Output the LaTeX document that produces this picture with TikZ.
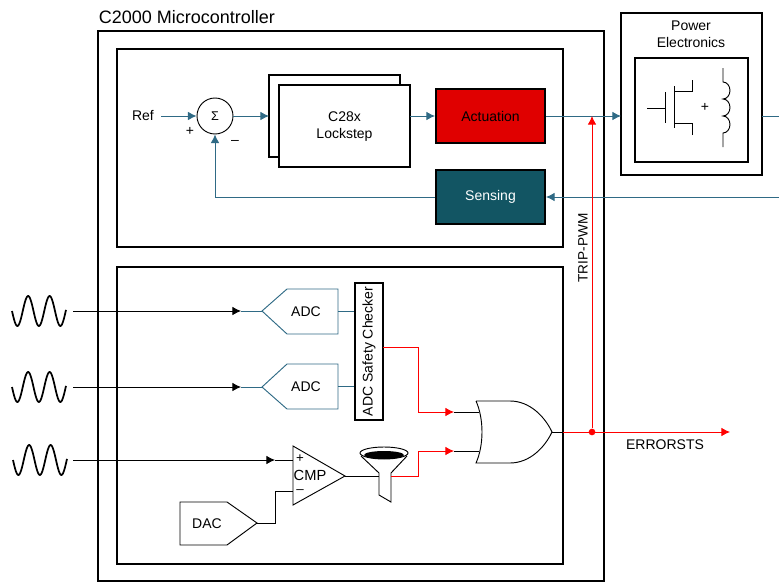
\documentclass[tikz,border=0pt]{standalone}
\usepackage{fontspec}
\setmainfont{Liberation Sans}
\usetikzlibrary{arrows.meta}
\tikzstyle{block}=[draw, line width=1.5pt, fill=white, minimum width=0, inner sep=0pt]
\tikzstyle{label}=[font=\fontsize{10.5}{12.75}\selectfont, inner sep=0pt, align=center]
\tikzstyle{thin}=[line width=0.7pt]
\tikzstyle{arrow}=[line width=0.7pt, -{Latex[length=6.5pt, width=6.5pt]}]
\tikzstyle{signal}=[arrow, color=sigblue]
\tikzstyle{link}=[thin, color=sigblue]
\tikzstyle{error}=[arrow, color=red]
\definecolor{sigblue}{HTML}{2F6A85}
\definecolor{actred}{HTML}{E00000}
\definecolor{senseteal}{HTML}{125563}

\begin{document}
\begin{tikzpicture}[x=0.75pt, y=-0.75pt]
  \useasboundingbox (0, 0) rectangle (779, 582);

  % boxes
  \draw[line width=1.5pt] (98, 31) rectangle (604, 581);
  \draw[line width=1.5pt] (117, 49) rectangle (563, 247);
  \draw[line width=1.5pt] (117, 267) rectangle (563, 564);
  \node[label, font=\fontsize{13.5}{15}\selectfont, anchor=west] (title) at (98.5, 17.5) {C2000 Microcontroller};

  % power stage
  \draw[line width=1.5pt] (621, 13) rectangle (762, 175);
  \draw[line width=1.5pt] (635, 58) rectangle (748, 162);
  \node[label] (power) at (691, 34.5) {Power\\Electronics};
  \draw[thin] (647, 108) -- (665, 108) (665, 92) -- (665, 123);
  \draw[thin] (674, 86) -- (674, 128);
  \draw[thin] (692.5, 80) |- (674, 91.5) (692.5, 135) |- (674, 123);
  \node[label] (plus) at (705, 107) {+};
  \draw[thin] (723, 68) -- (723, 82)
    arc (-90:90:7 and 8.5) arc (-90:90:7 and 8.5) arc (-90:90:7 and 8.5)
    -- (723, 147);

  % control loop
  \node[label] (ref) at (143, 116) {Ref};
  \node[draw, circle, thin, minimum size=27pt, inner sep=0pt, font=\fontsize{9.5}{11}\selectfont] (sum) at (215, 116) {Σ};
  \node[label] (plusin) at (190, 131) {+};
  \node[label] (minusin) at (235, 142) {--};
  \draw[block] (269, 75) rectangle (400, 157);
  \draw[block] (279, 85) rectangle (410, 167);
  \node[label] (cpu) at (344.5, 127) {C28x\\Lockstep};
  \coordinate (refout) at (161, 116);
  \coordinate (cpuin) at (269, 116);
  \coordinate (cpuout) at (410, 116);
  \node[block, fill=actred, minimum width=81.75pt, minimum height=40.5pt, label] (act) at (490.5, 116) {Actuation};
  \node[block, fill=senseteal, minimum width=81.75pt, minimum height=40.5pt, label, text=white] (sense) at (490.5, 197) {Sensing};
  \coordinate (powerin) at (621, 116);
  \coordinate (powerout) at (762, 116);
  \coordinate (outright) at (779, 116);
  \coordinate (inright) at (779, 197);

  \draw[signal] (refout) to (sum);
  \draw[signal] (sum) to (cpuin);
  \draw[signal] (cpuout) to (act);
  \draw[signal] (act.east |- powerin) to (powerin);
  \draw[link] (powerout) to (outright);
  \draw[signal] (inright) to (sense);
  \draw[signal] (sense) -| (sum);

  % analog inputs
  \foreach \yc/\xs in {311/12, 387/12, 460/13} {
    \draw[line width=1.3pt] plot[domain=0:54, samples=80, smooth] ({\xs+\x}, {\yc+15*sin(\x/21.5*360)});
  }
  \coordinate (sinea) at (73, 311);
  \coordinate (sineb) at (73, 387);
  \coordinate (sinec) at (73, 460);

  \draw[link] (338, 289) -- (287, 289) -- (262, 311) -- (287, 334) -- (338, 334) -- cycle;
  \draw[link] (338, 364) -- (287, 364) -- (262, 387) -- (287, 409) -- (338, 409) -- cycle;
  \node[label] (adca) at (306, 312) {ADC};
  \node[label] (adcb) at (306, 387) {ADC};
  \coordinate (adcain) at (262, 311);
  \coordinate (adcbin) at (262, 387);
  \coordinate (adcaout) at (338, 311);
  \coordinate (adcbout) at (338, 386);
  \coordinate (adcatip) at (241, 311);
  \coordinate (adcbtip) at (241, 387);
  \draw[link] (adcatip) to (adcain);
  \draw[link] (adcbtip) to (adcbin);
  \draw[arrow] (sinea) to (adcatip);
  \draw[arrow] (sineb) to (adcbtip);

  \node[block, minimum width=102.75pt, minimum height=21pt, label, rotate=90] (check) at (369, 351.5) {ADC Safety Checker};
  \draw[link] (adcaout) to (adcaout -| check.north);
  \draw[link] (adcbout) to (adcbout -| check.north);

  % comparator
  \draw[thin] (293, 446) -- (345, 476) -- (293, 505) -- cycle;
  \node[label, font=\fontsize{11}{12}\selectfont] (cmp) at (310, 475) {CMP};
  \node[label, font=\fontsize{10}{10}\selectfont] (cmpplus) at (300, 459) {+};
  \node[label, font=\fontsize{10}{10}\selectfont] (cmpminus) at (300, 492) {--};
  \coordinate (cmpin) at (293, 460);
  \coordinate (cmpref) at (293, 491);
  \coordinate (cmpout) at (345, 476);
  \coordinate (cmptip) at (275, 460);
  \draw[thin] (cmptip) to (cmpin);
  \draw[arrow] (sinec) to (cmptip);

  \draw[thin] (180, 502) -- (227, 502) -- (257, 523) -- (227, 545) -- (180, 545) -- cycle;
  \node[label] (dac) at (207, 524) {DAC};
  \coordinate (dacout) at (257, 523);
  \draw[thin] (dacout) -- (275, 523) -- (275, 491) -- (cmpref);

  % filter
  \draw[thin] (384, 453) ellipse (24 and 6);
  \fill (384, 455) ellipse (20 and 4);
  \draw[thin] (361, 456) -- (379, 473) -- (379, 495) -- (391, 502) -- (391, 473) -- (407, 456);
  \coordinate (filterin) at (379, 476);
  \coordinate (filterout) at (391, 476);
  \draw[thin] (cmpout) to (filterin);

  % or gate
  \draw[thin] (476, 401) -- (510, 401) .. controls (530, 401) and (545, 417) .. (552, 432)
    .. controls (545, 447) and (530, 463) .. (510, 463) -- (476, 463)
    .. controls (484, 445) and (484, 419) .. (476, 401);
  \coordinate (orina) at (479, 412);
  \coordinate (orinb) at (479, 451);
  \coordinate (orout) at (552, 432);
  \coordinate (tipa) at (454, 412);
  \coordinate (tipb) at (454, 451);
  \draw[thin] (tipa) to (orina);
  \draw[thin] (tipb) to (orinb);
  \coordinate (checkout) at (383, 347);
  \draw[error] (checkout) -- (418, 347) -- (418, 412) -- (tipa);
  \draw[error] (filterout) -- (418, 476) -- (418, 451) -- (tipb);

  % error outputs
  \coordinate (boxedge) at (563, 432);
  \coordinate (errend) at (730, 432);
  \coordinate (tripend) at (592, 116);
  \node[circle, fill=red, minimum size=5pt, inner sep=0pt] (dot) at (592, 432) {};
  \draw[thin] (orout) to (boxedge);
  \draw[error] (boxedge) to (errend);
  \draw[error] (dot) to (tripend);
  \node[label, font=\fontsize{10.2}{12}\selectfont, rotate=90] (trip) at (583, 248) {TRIP-PWM};
  \node[label] (errorsts) at (665, 445) {ERRORSTS};
\end{tikzpicture}
\end{document}
